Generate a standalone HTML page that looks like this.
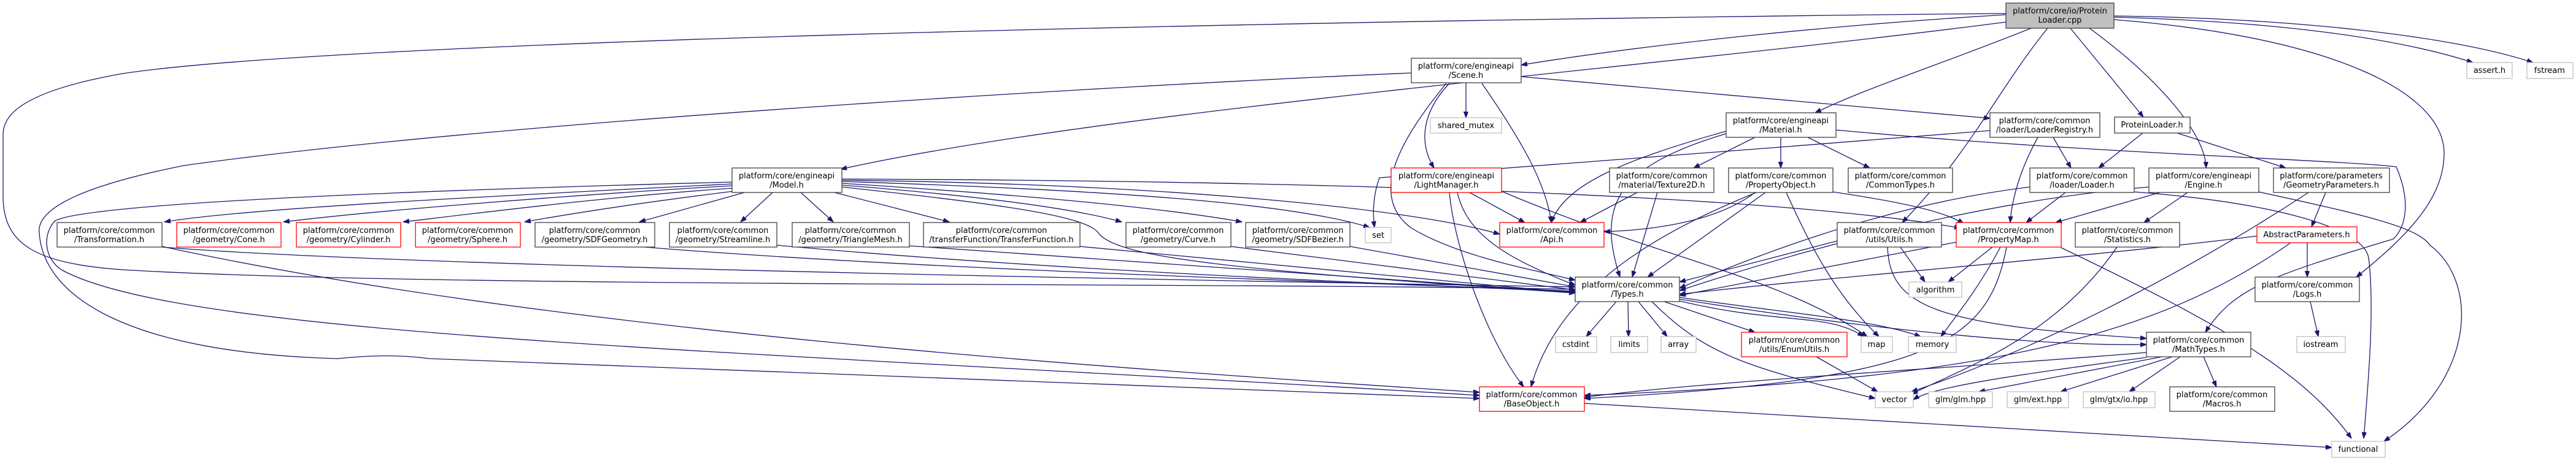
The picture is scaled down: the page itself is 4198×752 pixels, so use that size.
<!DOCTYPE html>
<html><head><meta charset="utf-8"><style>
html,body{margin:0;padding:0;background:#fff;width:4198px;height:752px;overflow:hidden}
svg text{font-family:"DejaVu Sans","Liberation Sans",sans-serif;font-size:13px;fill:#000;text-anchor:middle}
.e{fill:none;stroke:#191970;stroke-width:1.3}
.n{fill:#fff;stroke:#404040;stroke-width:1.3}
.r{fill:#fff;stroke:#ff0000;stroke-width:1.3}
.g{fill:#fff;stroke:#bfbfbf;stroke-width:1.3}
</style></head><body>
<svg width="4198" height="752" viewBox="0 0 4198 752" xmlns="http://www.w3.org/2000/svg">
<defs><marker id="a" markerUnits="userSpaceOnUse" markerWidth="11" markerHeight="8" refX="10" refY="3.7" orient="auto"><path d="M0,0 L10,3.7 L0,7.4 z" fill="#191970" stroke="#191970"/></marker></defs>
<g class="e" marker-end="url(#a)">
<path class="e" d="M3269,24 C3000,40 2700,70 2479,106"/>
<path class="e" d="M3269,36 C2700,110 1800,180 1370,276"/>
<path class="e" d="M3310,46 C3150,110 3050,140 2958,184"/>
<path class="e" d="M3337,46 C3260,140 3210,250 3100,363"/>
<path class="e" d="M3374,46 L3493,191"/>
<path class="e" d="M3405,46 C3520,130 3595,220 3595,274"/>
<path class="e" d="M3445,28 C3700,35 3900,60 4030,102"/>
<path class="e" d="M3445,26 C3750,30 4000,60 4128,102"/>
<path class="e" d="M3445,32 C3800,60 3983,150 3983,250 C3983,320 3930,380 3840,452"/>
<path class="e" d="M3269,22 C2400,30 600,60 200,120 C30,150 5,190 5,220 L5,320 C5,400 60,430 200,440 C700,470 2000,460 2567,472"/>
<path class="e" d="M2300,119 C1800,140 800,200 300,270 C100,310 60,350 64,380 C70,480 200,575 550,585 C600,580 650,578 700,585 L2411,650"/>
<path class="e" d="M1193,297 C700,310 150,330 90,360 C70,380 70,420 100,440 C300,550 1200,570 2411,645"/>
<path class="e" d="M1193,300 C800,320 400,340 268,362"/>
<path class="e" d="M1193,303 C900,320 600,345 462,362"/>
<path class="e" d="M1193,307 C1000,320 800,345 657,362"/>
<path class="e" d="M1195,312 C1050,330 950,345 855,362"/>
<path class="e" d="M1213,314 L1042,362"/>
<path class="e" d="M1259,314 L1207,362"/>
<path class="e" d="M1305,314 L1358,362"/>
<path class="e" d="M1360,314 L1547,362"/>
<path class="e" d="M1372,302 C1600,320 1750,340 1828,362"/>
<path class="e" d="M1372,299 C1700,320 1900,340 2024,362"/>
<path class="e" d="M1372,296 C1800,310 2100,330 2232,371"/>
<path class="e" d="M1372,294 C1900,300 2300,340 2444,382"/>
<path class="e" d="M1372,305 C1600,330 1770,350 1790,380 C1820,420 2000,440 2567,478"/>
<path class="e" d="M1372,292 C2200,295 2900,320 3195,372"/>
<path class="e" d="M264,403 C600,430 1500,450 2567,468"/>
<path class="e" d="M264,402 C900,540 1800,600 2411,640"/>
<path class="e" d="M1050,403 C1500,440 2200,460 2567,475"/>
<path class="e" d="M1266,400 C1700,440 2200,460 2567,476"/>
<path class="e" d="M1482,401 L2567,477"/>
<path class="e" d="M1760,402 L2567,478"/>
<path class="e" d="M2006,402 L2567,473"/>
<path class="e" d="M2200,402 L2567,468"/>
<path class="e" d="M2389,135 L2389,192"/>
<path class="e" d="M2362,136 C2320,180 2310,230 2337,274"/>
<path class="e" d="M2415,136 C2480,230 2520,300 2528,363"/>
<path class="e" d="M2357,136 C2280,230 2230,320 2300,372 C2380,420 2500,440 2567,457"/>
<path class="e" d="M2479,125 L3243,193"/>
<path class="e" d="M2395,314 L2485,363"/>
<path class="e" d="M2362,314 C2370,400 2420,550 2483,631"/>
<path class="e" d="M2447,312 C2700,420 2900,450 3043,549"/>
<path class="e" d="M2375,314 C2390,380 2450,420 2567,465"/>
<path class="e" d="M2860,224 L2760,274"/>
<path class="e" d="M2902,224 L2902,274"/>
<path class="e" d="M2946,224 L3047,274"/>
<path class="e" d="M2813,214 C2650,260 2550,300 2528,363"/>
<path class="e" d="M2813,218 C2640,270 2600,330 2640,452"/>
<path class="e" d="M2992,212 C3400,250 3800,260 3905,272 C3930,330 3920,372 3900,390 C3700,450 3640,470 3594,542"/>
<path class="e" d="M2668,314 L2575,363"/>
<path class="e" d="M2701,314 L2660,452"/>
<path class="e" d="M2860,314 C2800,360 2700,375 2614,378"/>
<path class="e" d="M2877,314 L2685,452"/>
<path class="e" d="M2911,314 C2950,400 2990,480 3062,549"/>
<path class="e" d="M2862,314 C2700,380 2540,470 2495,631"/>
<path class="e" d="M2987,313 C3100,330 3170,345 3200,365"/>
<path class="e" d="M3243,213 C2900,240 2400,280 2248,290 C2237,320 2237,350 2240,371"/>
<path class="e" d="M3346,224 L3375,274"/>
<path class="e" d="M3321,224 C3290,280 3278,330 3276,363"/>
<path class="e" d="M3492,217 L3420,274"/>
<path class="e" d="M3548,217 L3725,274"/>
<path class="e" d="M3366,314 L3302,363"/>
<path class="e" d="M3308,305 C3100,330 2900,400 2737,470"/>
<path class="e" d="M3478,313 C3700,330 3850,370 3860,420 C3870,500 3860,620 3852,715"/>
<path class="e" d="M3520,314 L3350,363"/>
<path class="e" d="M3565,314 L3494,363"/>
<path class="e" d="M3502,305 C3200,330 2900,420 2737,474"/>
<path class="e" d="M3681,313 C3850,350 3940,370 3960,400 C4040,460 4035,620 3885,720"/>
<path class="e" d="M3790,314 L3767,370"/>
<path class="e" d="M3762,314 C3600,420 3350,560 3115,639"/>
<path class="e" d="M3760,396 L3760,452"/>
<path class="e" d="M3678,385 C3400,420 3000,450 2737,480"/>
<path class="e" d="M3733,396 C3500,560 3200,620 2582,645"/>
<path class="e" d="M3097,403 L3137,460"/>
<path class="e" d="M2994,393 L2737,460"/>
<path class="e" d="M3076,403 C3080,500 3150,530 3498,552"/>
<path class="e" d="M3247,403 L3175,460"/>
<path class="e" d="M3260,403 C3230,460 3200,500 3163,549"/>
<path class="e" d="M3270,403 C3240,560 3150,620 2582,650"/>
<path class="e" d="M3188,395 L2737,482"/>
<path class="e" d="M3359,404 C3600,520 3750,600 3832,715"/>
<path class="e" d="M3450,403 C3350,550 3200,600 3115,643"/>
<path class="e" d="M2634,492 L2585,549"/>
<path class="e" d="M2653,492 L2654,549"/>
<path class="e" d="M2670,492 L2717,549"/>
<path class="e" d="M2712,492 L2860,542"/>
<path class="e" d="M2737,491 C2900,530 2980,510 3037,549"/>
<path class="e" d="M2737,485 C2900,510 3050,520 3130,549"/>
<path class="e" d="M2692,492 C2780,580 2850,600 3056,650"/>
<path class="e" d="M2737,488 C3000,530 3300,565 3498,562"/>
<path class="e" d="M2960,582 L3060,639"/>
<path class="e" d="M3523,582 L3225,639"/>
<path class="e" d="M3540,582 L3358,639"/>
<path class="e" d="M3553,582 L3470,639"/>
<path class="e" d="M3591,582 L3612,631"/>
<path class="e" d="M3498,583 C3300,610 3150,630 3118,652"/>
<path class="e" d="M3498,575 C3200,600 2800,620 2582,648"/>
<path class="e" d="M3765,492 L3778,549"/>
<path class="e" d="M2582,658 L3800,730"/>
</g>
<!-- nodes -->
<rect x="3269" y="5" width="176" height="41" fill="#bfbfbf" stroke="#404040" stroke-width="1.3"/>
<text x="3357" y="22">platform/core/io/Protein</text><text x="3357" y="37">Loader.cpp</text>

<rect class="n" x="2300" y="95" width="179" height="40"/><text x="2389" y="112">platform/core/engineapi</text><text x="2389" y="127">/Scene.h</text>
<rect class="g" x="2331" y="192" width="116" height="25"/><text x="2389" y="209">shared_mutex</text>
<rect class="n" x="2813" y="184" width="179" height="40"/><text x="2902" y="201">platform/core/engineapi</text><text x="2902" y="216">/Material.h</text>
<rect class="n" x="3243" y="184" width="179" height="40"/><text x="3332" y="201">platform/core/common</text><text x="3332" y="216">/loader/LoaderRegistry.h</text>
<rect class="n" x="3446" y="191" width="123" height="26"/><text x="3507" y="208">ProteinLoader.h</text>
<rect class="g" x="4020" y="102" width="74" height="26"/><text x="4057" y="119">assert.h</text>
<rect class="g" x="4118" y="102" width="75" height="26"/><text x="4155" y="119">fstream</text>

<rect class="n" x="1193" y="274" width="179" height="40"/><text x="1282" y="291">platform/core/engineapi</text><text x="1282" y="306">/Model.h</text>
<rect class="r" x="2267" y="274" width="180" height="40"/><text x="2357" y="291">platform/core/engineapi</text><text x="2357" y="306">/LightManager.h</text>
<rect class="n" x="2623" y="274" width="170" height="40"/><text x="2708" y="291">platform/core/common</text><text x="2708" y="306">/material/Texture2D.h</text>
<rect class="n" x="2817" y="274" width="170" height="40"/><text x="2902" y="291">platform/core/common</text><text x="2902" y="306">/PropertyObject.h</text>
<rect class="n" x="3012" y="274" width="170" height="40"/><text x="3097" y="291">platform/core/common</text><text x="3097" y="306">/CommonTypes.h</text>
<rect class="n" x="3308" y="274" width="170" height="40"/><text x="3393" y="291">platform/core/common</text><text x="3393" y="306">/loader/Loader.h</text>
<rect class="n" x="3502" y="274" width="179" height="40"/><text x="3591" y="291">platform/core/engineapi</text><text x="3591" y="306">/Engine.h</text>
<rect class="n" x="3705" y="274" width="189" height="40"/><text x="3799" y="291">platform/core/parameters</text><text x="3799" y="306">/GeometryParameters.h</text>

<rect class="n" x="93" y="363" width="171" height="40"/><text x="178" y="380">platform/core/common</text><text x="178" y="395">/Transformation.h</text>
<rect class="r" x="288" y="363" width="170" height="40"/><text x="373" y="380">platform/core/common</text><text x="373" y="395">/geometry/Cone.h</text>
<rect class="r" x="483" y="363" width="170" height="40"/><text x="568" y="380">platform/core/common</text><text x="568" y="395">/geometry/Cylinder.h</text>
<rect class="r" x="677" y="363" width="171" height="40"/><text x="762" y="380">platform/core/common</text><text x="762" y="395">/geometry/Sphere.h</text>
<rect class="n" x="872" y="363" width="195" height="40"/><text x="969" y="380">platform/core/common</text><text x="969" y="395">/geometry/SDFGeometry.h</text>
<rect class="n" x="1091" y="363" width="175" height="40"/><text x="1178" y="380">platform/core/common</text><text x="1178" y="395">/geometry/Streamline.h</text>
<rect class="n" x="1291" y="363" width="191" height="40"/><text x="1386" y="380">platform/core/common</text><text x="1386" y="395">/geometry/TriangleMesh.h</text>
<rect class="n" x="1505" y="363" width="255" height="40"/><text x="1632" y="380">platform/core/common</text><text x="1632" y="395">/transferFunction/TransferFunction.h</text>
<rect class="n" x="1835" y="363" width="171" height="40"/><text x="1920" y="380">platform/core/common</text><text x="1920" y="395">/geometry/Curve.h</text>
<rect class="n" x="2030" y="363" width="170" height="40"/><text x="2115" y="380">platform/core/common</text><text x="2115" y="395">/geometry/SDFBezier.h</text>
<rect class="g" x="2225" y="371" width="42" height="25"/><text x="2246" y="388">set</text>
<rect class="r" x="2444" y="363" width="170" height="40"/><text x="2529" y="380">platform/core/common</text><text x="2529" y="395">/Api.h</text>
<rect class="n" x="2994" y="363" width="170" height="40"/><text x="3079" y="380">platform/core/common</text><text x="3079" y="395">/utils/Utils.h</text>
<rect class="r" x="3188" y="363" width="171" height="40"/><text x="3273" y="380">platform/core/common</text><text x="3273" y="395">/PropertyMap.h</text>
<rect class="n" x="3382" y="363" width="170" height="40"/><text x="3467" y="380">platform/core/common</text><text x="3467" y="395">/Statistics.h</text>
<rect class="r" x="3678" y="370" width="163" height="26"/><text x="3759" y="387">AbstractParameters.h</text>

<rect class="n" x="2567" y="452" width="170" height="40"/><text x="2652" y="469">platform/core/common</text><text x="2652" y="484">/Types.h</text>
<rect class="g" x="3111" y="460" width="86" height="25"/><text x="3154" y="477">algorithm</text>
<rect class="n" x="3675" y="452" width="170" height="40"/><text x="3760" y="469">platform/core/common</text><text x="3760" y="484">/Logs.h</text>

<rect class="g" x="2535" y="549" width="67" height="26"/><text x="2568" y="566">cstdint</text>
<rect class="g" x="2625" y="549" width="60" height="26"/><text x="2655" y="566">limits</text>
<rect class="g" x="2707" y="549" width="57" height="26"/><text x="2735" y="566">array</text>
<rect class="r" x="2838" y="542" width="172" height="40"/><text x="2924" y="559">platform/core/common</text><text x="2924" y="574">/utils/EnumUtils.h</text>
<rect class="g" x="3033" y="549" width="51" height="26"/><text x="3058" y="566">map</text>
<rect class="g" x="3110" y="549" width="78" height="26"/><text x="3149" y="566">memory</text>
<rect class="n" x="3498" y="542" width="170" height="40"/><text x="3583" y="559">platform/core/common</text><text x="3583" y="574">/MathTypes.h</text>
<rect class="g" x="3743" y="549" width="79" height="26"/><text x="3782" y="566">iostream</text>

<rect class="r" x="2411" y="631" width="171" height="40"/><text x="2496" y="648">platform/core/common</text><text x="2496" y="663">/BaseObject.h</text>
<rect class="g" x="3056" y="639" width="62" height="26"/><text x="3087" y="656">vector</text>
<rect class="g" x="3143" y="639" width="104" height="26"/><text x="3195" y="656">glm/glm.hpp</text>
<rect class="g" x="3271" y="639" width="100" height="26"/><text x="3321" y="656">glm/ext.hpp</text>
<rect class="g" x="3395" y="639" width="117" height="26"/><text x="3453" y="656">glm/gtx/io.hpp</text>
<rect class="n" x="3536" y="631" width="171" height="40"/><text x="3621" y="648">platform/core/common</text><text x="3621" y="663">/Macros.h</text>
<rect class="g" x="3800" y="720" width="87" height="26"/><text x="3843" y="737">functional</text>
</svg>
</body></html>
